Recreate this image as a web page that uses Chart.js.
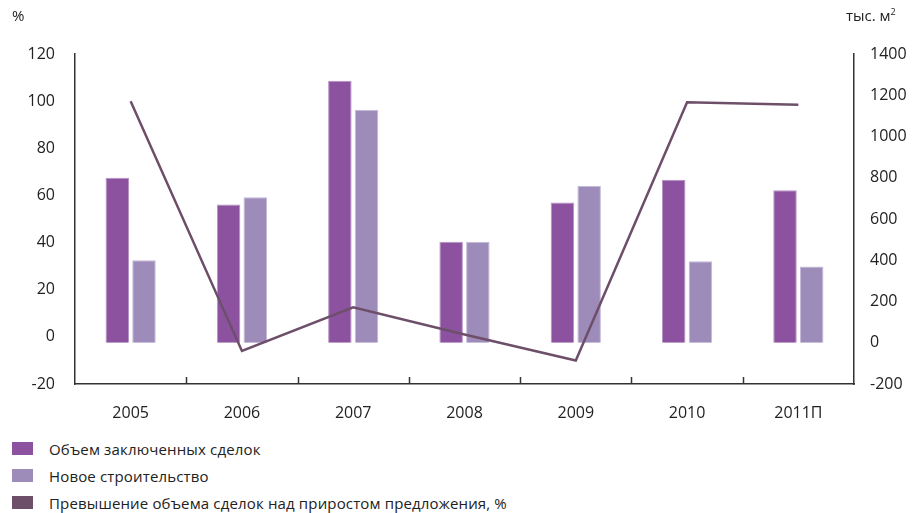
<!DOCTYPE html>
<html>
<head>
<meta charset="utf-8">
<script src="https://cdn.jsdelivr.net/npm/chart.js@4"></script>
<style>
  body { margin: 0; background: #fff; font-family: "Open Sans", sans-serif; color: #222; }
  #wrap { position: relative; width: 915px; height: 513px; }
  #chart { position: absolute; left: 0; top: 0; }
  .unit { position: absolute; top: 5px; font-size: 15px; }
  #legend { position: absolute; left: 12px; top: 435px; font-size: 15px; letter-spacing: 0.15px; }
  .item { height: 27px; display: flex; align-items: center; }
  .sw { width: 21px; height: 13px; margin-right: 16px; }
</style>
</head>
<body>
<div id="wrap">
  <canvas id="chart" width="915" height="420"></canvas>
  <div class="unit" style="left:12px">%</div>
  <div class="unit" style="left:846px">тыс. м<sup style="font-size:9px">2</sup></div>
  <div id="legend"></div>
</div>
<script>
const years = ["2005", "2006", "2007", "2008", "2009", "2010", "2011П"]
// тыс. м2
const deals = [800, 670, 1270, 490, 680, 790, 740]
const newBuild = [400, 705, 1130, 490, 760, 395, 370]
// %
const excess = [100, -6, 12.5, 1, -10, 99.5, 98.5]

const colors = ["#8c52a0", "#9d8cba", "#6d4f6a"]
const names = [
  "Объем заключенных сделок",
  "Новое строительство",
  "Превышение объема сделок над приростом предложения, %",
]

// small upward ticks between categories on the x axis
const innerTicks = {
  id: "innerTicks",
  afterDraw(chart) {
    const x = chart.scales.x
    const ctx = chart.ctx
    const bottom = chart.chartArea.bottom
    ctx.save()
    ctx.strokeStyle = "#333"
    ctx.lineWidth = 1.5
    for (let i = 0; i < years.length - 1; i++) {
      const px = Math.round((x.getPixelForValue(i) + x.getPixelForValue(i + 1)) / 2) + 0.5
      ctx.beginPath()
      ctx.moveTo(px, bottom)
      ctx.lineTo(px, bottom - 7)
      ctx.stroke()
    }
    ctx.restore()
  },
}

const tickFont = { family: "Open Sans", size: 16 }

new Chart(document.getElementById("chart"), {
  type: "bar",
  data: {
    labels: years,
    datasets: [
      {
        label: names[0],
        data: deals,
        backgroundColor: colors[0],
        borderColor: "#b592c4",
        borderWidth: 1,
        yAxisID: "y1",
        order: 2,
        barPercentage: 0.88,
        categoryPercentage: 0.48,
      },
      {
        label: names[1],
        data: newBuild,
        backgroundColor: colors[1],
        borderColor: "#c4b8d8",
        borderWidth: 1,
        yAxisID: "y1",
        order: 2,
        barPercentage: 0.88,
        categoryPercentage: 0.48,
      },
      {
        type: "line",
        label: names[2],
        data: excess,
        borderColor: colors[2],
        borderWidth: 2.5,
        pointRadius: 0,
        tension: 0,
        yAxisID: "y",
        order: 1,
      },
    ],
  },
  options: {
    responsive: false,
    animation: false,
    layout: { padding: { top: 54, left: 0, right: 0, bottom: 0 } },
    plugins: { legend: { display: false }, tooltip: { enabled: false } },
    scales: {
      x: {
        grid: { display: false },
        border: { display: true, color: "#333", width: 1.5 },
        ticks: { color: "#222", font: tickFont, padding: 12 },
        afterFit: (s) => { s.height = 36 },
      },
      y: {
        position: "left",
        min: -20,
        max: 120,
        grid: { display: false },
        border: { display: true, color: "#333", width: 1.5 },
        ticks: { stepSize: 20, color: "#222", font: tickFont, padding: 12 },
        afterFit: (s) => { s.width = 75 },
      },
      y1: {
        position: "right",
        min: -200,
        max: 1400,
        grid: { display: false },
        border: { display: true, color: "#333", width: 1.5 },
        ticks: { stepSize: 200, color: "#222", font: tickFont, padding: 8, callback: (v) => String(v) },
        afterFit: (s) => { s.width = 61 },
      },
    },
  },
  plugins: [innerTicks],
})

const legend = document.getElementById("legend")
names.forEach((n, i) => {
  const row = document.createElement("div")
  row.className = "item"
  row.innerHTML = '<span class="sw" style="background:' + colors[i] + '"></span><span></span>'
  row.lastChild.textContent = n
  legend.appendChild(row)
})
</script>
</body>
</html>
